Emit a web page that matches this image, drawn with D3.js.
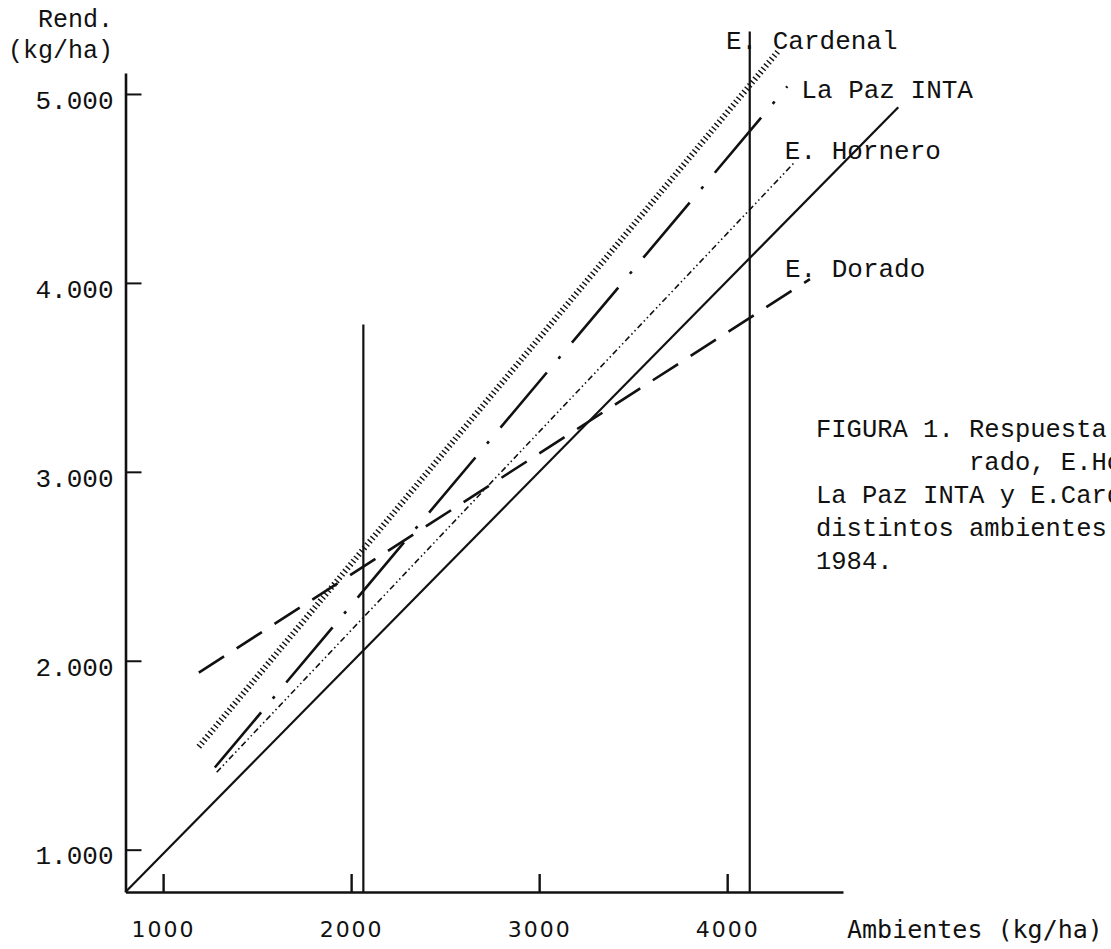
<!DOCTYPE html>
<html>
<head>
<meta charset="utf-8">
<script src="https://cdn.jsdelivr.net/npm/d3@7"></script>
<style>
  body { margin: 0; background: #fff; }
  svg { display: block; }
</style>
</head>
<body>
<div id="chart"></div>
<script>
// Regression lines, yield (Rend.) vs environment (Ambientes), kg/ha
const cultivares = ["E. Cardenal", "La Paz INTA", "E. Hornero", "E. Dorado"];
const ambInicio = [1190, 1275, 1285, 1190];
const ambFin = [4270, 4320, 4360, 4440];
const rendInicio = [1545, 1435, 1410, 1937];
const rendFin = [5225, 5040, 4640, 4020];

// 1:1 line
const refAmb = [800, 4910];
const refRend = [776, 4930];

// vertical reference lines
const verticalesAmb = [2065, 4120];
const verticalesTope = [3780, 5330];

const xTicks = [1000, 2000, 3000, 4000];
const xTickLabels = ["1000", "2000", "3000", "4000"];
const yTicks = [1000, 2000, 3000, 4000, 5000];
const yTickLabels = ["1.000", "2.000", "3.000", "4.000", "5.000"];

const leyenda = ["FIGURA 1. Respuesta", "          rado, E.Ho", "La Paz INTA y E.Card", "distintos ambientes", "1984."];

const width = 1111, height = 949;
const ink = "#111";
const mono = "'Liberation Mono', monospace";

const x = d3.scaleLinear().domain([800, 4616]).range([125.5, 843]);
const y = d3.scaleLinear().domain([776, 5111]).range([892, 73]);

const svg = d3.select("#chart").append("svg")
    .attr("width", width)
    .attr("height", height)
    .style("background", "#fff");

// axes
const xAxis = d3.axisBottom(x)
    .tickValues(xTicks)
    .tickFormat((d, i) => xTickLabels[i])
    .tickSizeInner(-18)
    .tickSizeOuter(0)
    .tickPadding(29);

const gx = svg.append("g")
    .attr("transform", `translate(0,${y(776)})`)
    .call(xAxis);
gx.select(".domain").attr("stroke", ink).attr("stroke-width", 2.6);
gx.selectAll(".tick line").attr("stroke", ink).attr("stroke-width", 2.4);
gx.selectAll(".tick text")
    .attr("fill", ink)
    .style("font-family", "'DejaVu Sans', sans-serif")
    .style("font-size", "22px")
    .style("letter-spacing", "2px");

const yAxis = d3.axisLeft(y)
    .tickValues(yTicks)
    .tickFormat((d, i) => yTickLabels[i])
    .tickSizeInner(-16)
    .tickSizeOuter(0)
    .tickPadding(12);

const gy = svg.append("g")
    .attr("transform", `translate(${x(800)},0)`)
    .call(yAxis);
gy.select(".domain").attr("stroke", ink).attr("stroke-width", 2.6);
gy.selectAll(".tick line").attr("stroke", ink).attr("stroke-width", 2);
gy.selectAll(".tick text")
    .attr("fill", ink)
    .attr("dy", "0.55em")
    .style("font-family", mono)
    .style("font-size", "26px");

// vertical lines
svg.selectAll(".vert")
    .data(verticalesAmb)
    .join("line")
    .attr("x1", d => x(d))
    .attr("x2", d => x(d))
    .attr("y1", y(776))
    .attr("y2", (d, i) => y(verticalesTope[i]))
    .attr("stroke", ink)
    .attr("stroke-width", 2.2);

const line = d3.line()
    .x(d => x(d[0]))
    .y(d => y(d[1]));

// 1:1 solid line
svg.append("path")
    .datum([[refAmb[0], refRend[0]], [refAmb[1], refRend[1]]])
    .attr("fill", "none")
    .attr("stroke", ink)
    .attr("stroke-width", 2.2)
    .attr("d", line);

// series styles
const estilos = [
  { dash: "1.4,2.9", w: 6 },          // hatched dotted
  { dash: "72,18,3,18", w: 2.6 },     // long dash - dot
  { dash: "6,3,1.5,3,1.5,3", w: 1.6 },// fine dash-dot-dot
  { dash: "30,15", w: 2.6 }           // dashed
];
const labelOffset = [[-52, -2], [14, 12], [-10, -3], [-25, -2]];

cultivares.forEach((name, i) => {
  svg.append("path")
      .datum([[ambInicio[i], rendInicio[i]], [ambFin[i], rendFin[i]]])
      .attr("fill", "none")
      .attr("stroke", ink)
      .attr("stroke-width", estilos[i].w)
      .attr("stroke-dasharray", estilos[i].dash)
      .attr("d", line);

  svg.append("text")
      .attr("x", x(ambFin[i]) + labelOffset[i][0])
      .attr("y", y(rendFin[i]) + labelOffset[i][1])
      .attr("fill", ink)
      .style("font-family", mono)
      .style("font-size", "26px")
      .style("white-space", "pre")
      .text(name);
});

// axis titles
svg.append("text").attr("x", 38).attr("y", 27)
    .attr("fill", ink).style("font-family", mono).style("font-size", "25px")
    .text("Rend.");
svg.append("text").attr("x", 8).attr("y", 58)
    .attr("fill", ink).style("font-family", mono).style("font-size", "25px")
    .text("(kg/ha)");
svg.append("text").attr("x", 847).attr("y", 938)
    .attr("fill", ink).style("font-family", "'DejaVu Sans Mono', monospace").style("font-size", "25px")
    .text("Ambientes (kg/ha)");

// caption (cut by the right edge, as in the scan)
svg.append("g").selectAll("text")
    .data(leyenda)
    .join("text")
    .attr("x", 816)
    .attr("y", (d, i) => 437 + i * 33)
    .attr("fill", ink)
    .style("font-family", mono)
    .style("font-size", "25.5px")
    .style("white-space", "pre")
    .text(d => d);
</script>
</body>
</html>
